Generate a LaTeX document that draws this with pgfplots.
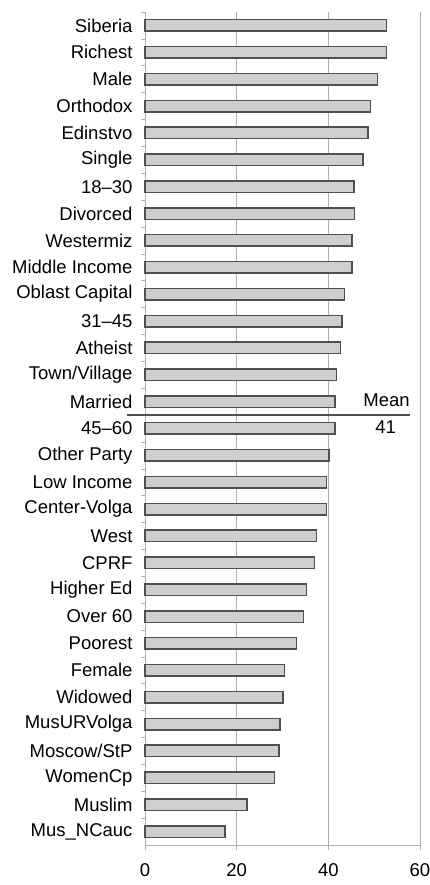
\documentclass[border=0pt]{standalone}
\usepackage{pgfplots}
\pgfplotsset{compat=1.18}
\usepackage{fontspec}
\setmainfont{Liberation Sans}
\definecolor{barfill}{HTML}{CFCFCF}
\definecolor{bardraw}{HTML}{505050}
\definecolor{axgray}{HTML}{B0B0B0}
\begin{document}
\begin{tikzpicture}
\begin{axis}[
  xbar,
  scale only axis,
  width=275pt, height=833pt,
  xmin=0, xmax=60,
  ymin=-0.5, ymax=30.5,
  bar width=11.5pt,
  axis x line*=bottom,
  axis y line*=left,
  axis line style={axgray, line width=0.8pt},
  xtick={0,20,40,60},
  xmajorgrids,
  grid style={axgray, line width=0.8pt},
  tick align=outside,
  major tick length=5pt,
  minor tick length=4pt,
  tick style={axgray, line width=0.6pt},
  ytick={0,...,30},
  y tick style={draw=none},
  minor ytick={0.5,1.5,...,30.5},
  minor y tick style={draw=axgray, line width=0.6pt},
  yticklabels={Mus\_NCauc,Muslim,WomenCp,Moscow/StP,MusURVolga,Widowed,Female,Poorest,Over 60,Higher Ed,CPRF,West,Center-Volga,Low Income,Other Party,45–60,Married,Town/Village,Atheist,31–45,Oblast Capital,Middle Income,Westermiz,Divorced,18–30,Single,Edinstvo,Orthodox,Male,Richest,Siberia},
  ticklabel style={font=\fontsize{18.5}{22}\selectfont, text=black},
  yticklabel style={xshift=-4pt},
  xticklabel style={yshift=-10pt},
  /pgf/number format/assume math mode=true,
  clip=false,
]
\addplot[fill=barfill, draw=bardraw, line width=1.5pt] coordinates {
(17.5,0) (22.3,1) (28.2,2) (29.2,3) (29.5,4) (30.1,5) (30.4,6) (33.0,7) (34.6,8) (35.2,9)
(37.0,10) (37.4,11) (39.6,12) (39.6,13) (40.1,14) (41.4,15) (41.4,16) (41.8,17) (42.7,18) (43.0,19)
(43.5,20) (45.2,21) (45.2,22) (45.7,23) (45.6,24) (47.6,25) (48.7,26) (49.2,27) (50.7,28) (52.7,29) (52.7,30)
};
\addplot[xbar=0pt, draw=bardraw, line width=1.5pt, mark=none, forget plot, sharp plot] coordinates {(-3.9,15.5) (57.8,15.5)};
\node[font=\fontsize{18.5}{22}\selectfont] at (axis cs:52.7,16.05) {Mean};
\node[font=\fontsize{18.5}{22}\selectfont] at (axis cs:52.5,15.05) {41};
\coordinate (SW) at (rel axis cs:0,0);
\end{axis}
\pgfresetboundingbox
\path (SW) ++(-145pt,-40pt) rectangle ++(430pt,885pt);
\end{tikzpicture}
\end{document}
